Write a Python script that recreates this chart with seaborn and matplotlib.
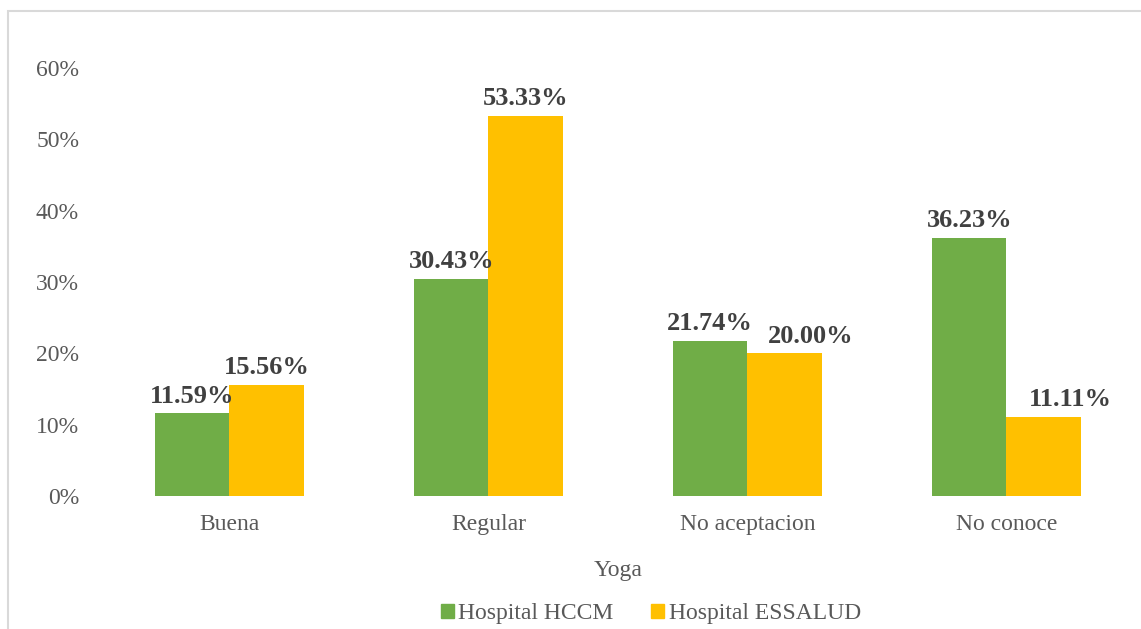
import numpy as np
import pandas as pd
import matplotlib
matplotlib.use("Agg")
import matplotlib.pyplot as plt
import seaborn as sns
from matplotlib.patches import Rectangle

categories = ["Buena", "Regular", "No aceptacion", "No conoce"]
hccm = [11.59, 30.43, 21.74, 36.23]
essalud = [15.56, 53.33, 20.00, 11.11]
series = ["Hospital HCCM", "Hospital ESSALUD"]
colors = ["#70AD47", "#FFC000"]
yticks = [0, 10, 20, 30, 40, 50, 60]
# horizontal nudge (points) of the ESSALUD labels, as placed in the original
essalud_nudge = [0, 0, 19, 19]

df = pd.DataFrame({
    "cat": categories * 2,
    "val": hccm + essalud,
    "serie": [series[0]] * len(categories) + [series[1]] * len(categories),
})

sns.set_theme(style="white")
plt.rcParams["font.family"] = ["Liberation Serif", "DejaVu Serif"]

fig = plt.figure(figsize=(11.41, 6.29), dpi=100)
ax = fig.add_axes([0.0876, 0.2114, 0.908, 0.6805])

sns.barplot(data=df, x="cat", y="val", hue="serie", palette=colors,
            width=0.575, gap=0, saturation=1, linewidth=0, ax=ax, legend=False)

for i, c in enumerate(ax.containers):
    anns = ax.bar_label(c, labels=[f"{v:.2f}%" for v in c.datavalues], padding=4,
                        fontsize=19, fontweight="bold", color="#404040")
    if i == 1:
        for a, dx in zip(anns, essalud_nudge):
            a.xyann = (a.xyann[0] + dx, a.xyann[1])

ax.set_ylim(0, 60)
ax.set_xlim(-0.5, 3.5)
ax.set_yticks(yticks)
ax.set_yticklabels([f"{t}%" for t in yticks])
ax.tick_params(axis="y", length=0, pad=15, labelsize=17, labelcolor="#595959")
ax.tick_params(axis="x", length=0, pad=13, labelsize=17, labelcolor="#595959")
ax.set_xlabel("Yoga", fontsize=17, color="#595959", labelpad=18)
ax.set_ylabel("")
sns.despine(ax=ax, left=True, bottom=True)

handles = [Rectangle((0, 0), 1, 1, color=col) for col in colors]
fig.legend(handles, series, loc="center", bbox_to_anchor=(651 / 1141, 1 - 614 / 629),
           ncol=2, frameon=False, fontsize=17, handlelength=0.55, handleheight=0.55,
           handletextpad=0.2, columnspacing=1.6, labelcolor="#595959")

# outer chart frame
fig.patches.append(Rectangle((8 / 1141, -0.1), 1.2, 1 - 11 / 629 + 0.1,
                             transform=fig.transFigure, fill=False,
                             edgecolor="#d9d9d9", linewidth=1.5))

fig.savefig("out.png", dpi=100)
